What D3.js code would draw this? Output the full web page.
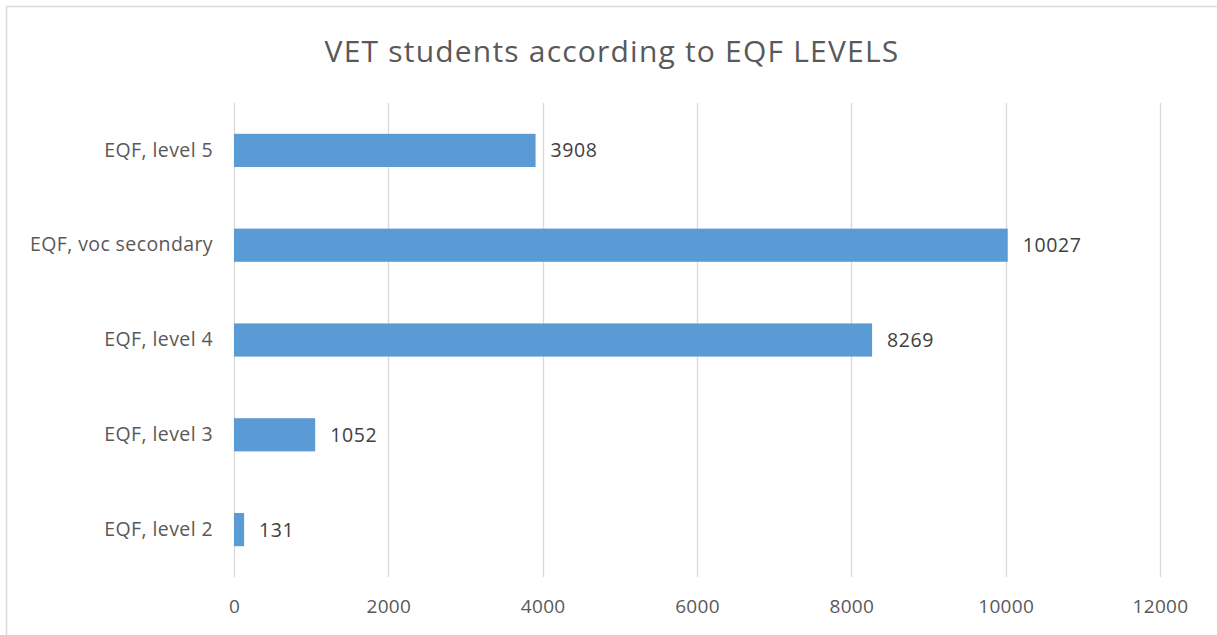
<!DOCTYPE html>
<html>
<head>
<meta charset="utf-8">
<script src="https://cdn.jsdelivr.net/npm/d3@7"></script>
<style>
  html, body { margin: 0; padding: 0; background: #fff; }
  svg { display: block; }
</style>
</head>
<body>
<svg id="chart" width="1217" height="635"></svg>
<script>
// EQF level categories, listed top to bottom
const categories = ["EQF, level 5", "EQF, voc secondary", "EQF, level 4", "EQF, level 3", "EQF, level 2"];
// Number of VET students per category
const students = [3908, 10027, 8269, 1052, 131];
// Horizontal axis ticks
const xTicks = [0, 2000, 4000, 6000, 8000, 10000, 12000];

const svg = d3.select("#chart");
const W = 1217, H = 635;
const margin = { left: 234, right: 57, top: 103, bottom: 58 };
const font = "'Open Sans', 'Liberation Sans', sans-serif";
const textColor = "#595959";

// Chart frame
svg.append("rect")
  .attr("x", 6.5).attr("y", 6.5)
  .attr("width", W + 10).attr("height", H + 10)
  .attr("fill", "#fff").attr("stroke", "#d9d9d9").attr("stroke-width", 1.5);

const x = d3.scaleLinear().domain([0, 12000]).range([margin.left, W - margin.right]);
const y = d3.scaleBand().domain(categories)
  .range([margin.top, H - margin.bottom])
  .paddingInner(0.65).paddingOuter(0.325);

// Vertical gridlines
svg.append("g")
  .selectAll("line").data(xTicks).join("line")
  .attr("x1", d => Math.round(x(d)) + 0.5).attr("x2", d => Math.round(x(d)) + 0.5)
  .attr("y1", margin.top).attr("y2", H - margin.bottom)
  .attr("stroke", "#d9d9d9").attr("stroke-width", 1.3);

// Bottom axis labels
const xAxis = d3.axisBottom(x).tickValues(xTicks).tickSize(0).tickPadding(23).tickFormat(d3.format("d"));
const gx = svg.append("g").attr("transform", `translate(0,${H - margin.bottom})`).call(xAxis);
gx.select(".domain").remove();
gx.selectAll("text").attr("fill", textColor).style("font-family", font).style("font-size", "19px")
  .style("letter-spacing", "0.3px");

// Left category labels
const yAxis = d3.axisLeft(y).tickSize(0).tickPadding(21);
const gy = svg.append("g").attr("transform", `translate(${margin.left},0)`).call(yAxis);
gy.select(".domain").remove();
gy.selectAll("text").attr("fill", textColor).style("font-family", font).style("font-size", "19.5px")
  .style("letter-spacing", "0.4px");

// Bars
const rows = categories.map((c, i) => ({ c, v: students[i] }));
svg.append("g").selectAll("rect").data(rows).join("rect")
  .attr("x", x(0)).attr("y", d => y(d.c))
  .attr("width", d => x(d.v) - x(0)).attr("height", y.bandwidth())
  .attr("fill", "#5b9bd5");

// Value labels
svg.append("g").selectAll("text").data(rows).join("text")
  .attr("x", d => x(d.v) + 15).attr("y", d => y(d.c) + y.bandwidth() / 2)
  .attr("dy", "0.36em")
  .attr("fill", "#404040").style("font-family", font).style("font-size", "19.5px")
  .style("letter-spacing", "0.6px")
  .text(d => d.v);

// Title
svg.append("text")
  .attr("x", 612).attr("y", 62)
  .attr("text-anchor", "middle")
  .attr("fill", textColor).style("font-family", font).style("font-size", "30px")
  .style("letter-spacing", "1.2px")
  .text("VET students according to EQF LEVELS");
</script>
</body>
</html>
